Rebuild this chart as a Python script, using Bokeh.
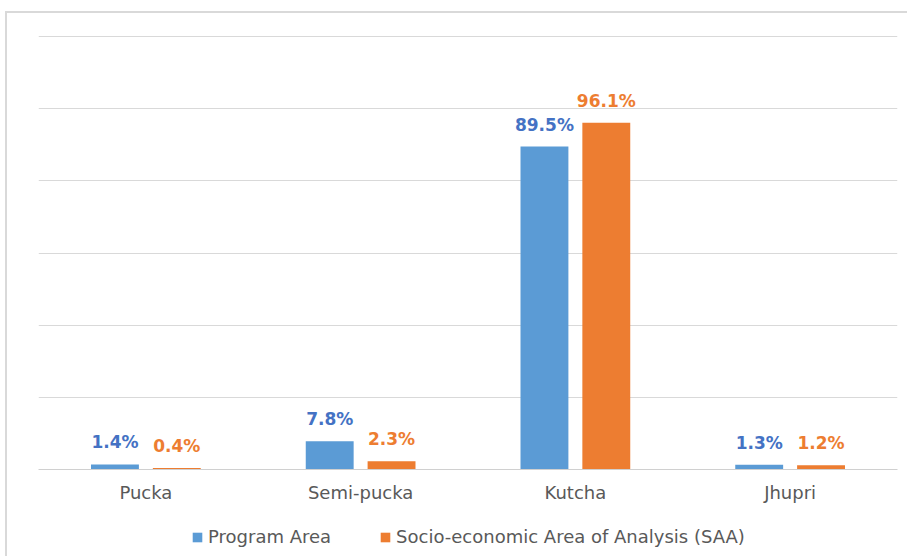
from bokeh.plotting import figure
from bokeh.layouts import column
from bokeh.models import ColumnDataSource, FactorRange, LabelSet, Legend, LegendItem, FixedTicker
from bokeh.core.properties import value
from bokeh.transform import dodge
from bokeh.embed import file_html
from bokeh.resources import INLINE

categories = ["Pucka", "Semi-pucka", "Kutcha", "Jhupri"]
program_area = [1.4, 7.8, 89.5, 1.3]
saa = [0.4, 2.3, 96.1, 1.2]
series_names = ["Program Area", "Socio-economic Area of Analysis (SAA)"]
y_ticks = [0, 20, 40, 60, 80, 100, 120]

BLUE = "#5B9BD5"
BLUE_TXT = "#4472C4"
ORANGE = "#ED7D31"
GREY_TXT = "#595959"
FONT = "DejaVu Sans"

src = ColumnDataSource(dict(
    cat=categories,
    pa=program_area,
    saa=saa,
    pa_lbl=[f"{v:.1f}%" for v in program_area],
    saa_lbl=[f"{v:.1f}%" for v in saa],
))

p = figure(
    x_range=FactorRange(*categories, range_padding=0),
    y_range=(0, 120.3),
    width=900, height=496,
    output_backend="svg", toolbar_location=None,
    min_border_left=31, min_border_right=10, min_border_top=22, min_border_bottom=40,
)
p.outline_line_color = None

r1 = p.vbar(x=dodge("cat", -0.144, range=p.x_range), top="pa", width=0.223,
            source=src, fill_color=BLUE, line_color=None)
r2 = p.vbar(x=dodge("cat", 0.144, range=p.x_range), top="saa", width=0.223,
            source=src, fill_color=ORANGE, line_color=None)

for col, lbl, off, color in [("pa", "pa_lbl", -0.144, BLUE_TXT), ("saa", "saa_lbl", 0.144, ORANGE)]:
    ls = LabelSet(x=dodge("cat", off, range=p.x_range), y=col, text=lbl, source=src,
                  text_align="center", text_baseline="bottom", y_offset=12,
                  text_font=value(FONT), text_font_style="bold", text_font_size="17px",
                  text_color=color)
    p.add_layout(ls)

p.yaxis.visible = False
p.ygrid.ticker = FixedTicker(ticks=y_ticks)
p.ygrid.grid_line_color = "#D9D9D9"
p.ygrid.grid_line_width = 1
p.xgrid.grid_line_color = None

p.xaxis.axis_line_color = "#D0D0D0"
p.xaxis.major_tick_line_color = None
p.xaxis.minor_tick_line_color = None
p.xaxis.major_tick_out = 0
p.xaxis.major_tick_in = 0
p.xaxis.major_label_text_font = FONT
p.xaxis.major_label_text_font_size = "18px"
p.xaxis.major_label_text_color = GREY_TXT
p.xaxis.major_label_standoff = 12

# legend strip below the chart (legend renderers lie outside the visible range)
p2 = figure(width=900, height=47, output_backend="svg", toolbar_location=None,
            min_border=0, x_range=(0, 1), y_range=(0, 1))
p2.axis.visible = False
p2.grid.visible = False
p2.outline_line_color = None
offscreen = ColumnDataSource(dict(x=[-10.0], top=[-10.0]))
l1 = p2.vbar(x="x", top="top", bottom=-11, width=0.1, source=offscreen, fill_color=BLUE, line_color=None)
l2 = p2.vbar(x="x", top="top", bottom=-11, width=0.1, source=offscreen, fill_color=ORANGE, line_color=None)
legend = Legend(items=[LegendItem(label=series_names[0], renderers=[l1]),
                       LegendItem(label=series_names[1], renderers=[l2])],
                orientation="horizontal", location=(153, 9),
                label_text_font=FONT, label_text_font_size="18px",
                label_text_color=GREY_TXT, glyph_width=12, glyph_height=12,
                label_standoff=5, spacing=48, border_line_color=None,
                background_fill_alpha=0, margin=0, padding=4)
p2.add_layout(legend, "center")

layout = column(p, p2, spacing=0)
layout.margin = (11, 0, 0, 5)
layout.styles = {"border-top": "2px solid #D9D9D9", "border-left": "2px solid #D9D9D9"}

open("out.html", "w").write(file_html(layout, INLINE))
